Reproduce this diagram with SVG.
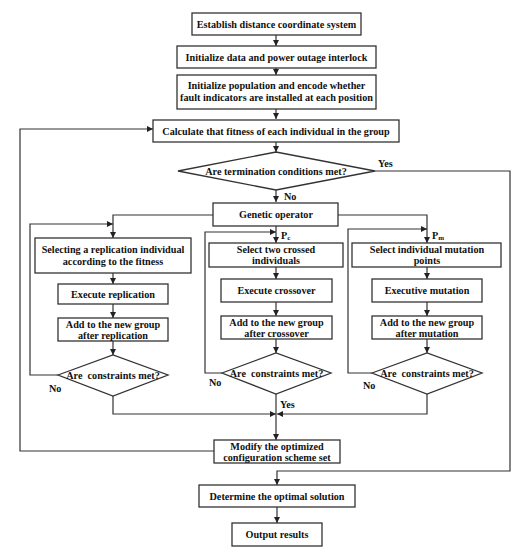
<svg xmlns="http://www.w3.org/2000/svg" width="521" height="550" viewBox="0 0 521 550">
<defs>
<marker id="arr" markerUnits="userSpaceOnUse" markerWidth="7" markerHeight="6" refX="6" refY="3" orient="auto">
<path d="M0,0 L6,3 L0,6 Z" fill="#222"/>
</marker>
<style>
.box{fill:#fff;stroke:#333;stroke-width:1.3}
.t{font-family:"Liberation Serif","Times New Roman",serif;font-weight:bold;font-size:10.2px;fill:#111;text-anchor:middle}
.l{font-family:"Liberation Serif","Times New Roman",serif;font-weight:bold;font-size:10.2px;fill:#111}
.c{fill:none;stroke:#333;stroke-width:1.2}
.a{fill:none;stroke:#333;stroke-width:1.2;marker-end:url(#arr)}
</style>
</defs>
<rect width="521" height="550" fill="#fff"/>
<g id="connectors">
<path class="a" d="M276,35 V46"/>
<path class="a" d="M276,68 V75"/>
<path class="a" d="M276,109 V119"/>
<path class="a" d="M276,142 V152"/>
<path class="a" d="M276,190 V202"/>
<path class="a" d="M276,226 V243"/>
<path class="a" d="M213,215 H113 V238"/>
<path class="a" d="M338,215 H427 V243"/>
<path class="a" d="M113,273 V284"/>
<path class="a" d="M113,304 V318"/>
<path class="a" d="M113,341 V355"/>
<path class="a" d="M276,267 V279"/>
<path class="a" d="M276,302 V316"/>
<path class="a" d="M276,339 V353"/>
<path class="a" d="M427,267 V279"/>
<path class="a" d="M427,302 V316"/>
<path class="a" d="M427,339 V353"/>
<path class="a" d="M58,375 H30 V224 H113"/>
<path class="a" d="M222,373 H205 V232 H276"/>
<path class="a" d="M372,373 H348 V229 H427"/>
<path class="a" d="M113,396 V414 H276"/>
<path class="a" d="M427,394 V414 H277"/>
<path class="a" d="M276,394 V440"/>
<path class="a" d="M214,451 H20 V129 H153"/>
<path class="a" d="M375,171 H510 V471 H277 V485"/>
<path class="a" d="M277,507 V523"/>
</g>
<g id="n1"><rect class="box" x="192" y="13" width="169" height="22"/><text class="t" x="276.5" y="27.5">Establish distance coordinate system</text></g>
<g id="n2"><rect class="box" x="177" y="46" width="199" height="22"/><text class="t" x="276.5" y="60.5">Initialize data and power outage interlock</text></g>
<g id="n3"><rect class="box" x="177" y="75" width="199" height="34"/><text class="t" x="276.5" y="89">Initialize population and encode whether</text><text class="t" x="276.5" y="101">fault indicators are installed at each position</text></g>
<g id="n4"><rect class="box" x="153" y="120" width="246" height="22"/><text class="t" x="276" y="134.5">Calculate that fitness of each individual in the group</text></g>
<g id="d1"><path class="box" d="M178,171 L276,152 L375,171 L276,190 Z"/><text class="t" x="276" y="175">Are termination conditions met?</text></g>
<text class="l" x="378" y="167">Yes</text>
<text class="l" x="284" y="200">No</text>
<g id="n5"><rect class="box" x="213" y="203" width="125" height="23"/><text class="t" x="276" y="218">Genetic operator</text></g>
<text class="l" x="281" y="239">P<tspan font-size="7px" dy="1">c</tspan></text>
<text class="l" x="432" y="239">P<tspan font-size="7px" dy="1">m</tspan></text>
<g id="n6"><rect class="box" x="35" y="238" width="156" height="35"/><text class="t" x="113" y="253">Selecting a replication individual</text><text class="t" x="113" y="265">according to the fitness</text></g>
<g id="n7"><rect class="box" x="209" y="243" width="134" height="24"/><text class="t" x="276" y="253">Select two crossed</text><text class="t" x="276" y="264">individuals</text></g>
<g id="n8"><rect class="box" x="352" y="243" width="149" height="24"/><text class="t" x="427" y="253">Select individual mutation</text><text class="t" x="427" y="264">points</text></g>
<g id="n9"><rect class="box" x="58" y="284" width="110" height="20"/><text class="t" x="113" y="297.5">Execute replication</text></g>
<g id="n10"><rect class="box" x="221" y="279" width="111" height="23"/><text class="t" x="276.5" y="294">Execute crossover</text></g>
<g id="n11"><rect class="box" x="372" y="279" width="110" height="23"/><text class="t" x="427" y="294">Executive mutation</text></g>
<g id="n12"><rect class="box" x="58" y="318" width="110" height="23"/><text class="t" x="113" y="327.5">Add to the new group</text><text class="t" x="113" y="338.5">after replication</text></g>
<g id="n13"><rect class="box" x="221" y="316" width="111" height="23"/><text class="t" x="276.5" y="325.5">Add to the new group</text><text class="t" x="276.5" y="336.5">after crossover</text></g>
<g id="n14"><rect class="box" x="372" y="316" width="110" height="23"/><text class="t" x="427" y="325.5">Add to the new group</text><text class="t" x="427" y="336.5">after mutation</text></g>
<g id="d2"><path class="box" d="M58,375 L113,355 L168,375 L113,396 Z"/><text class="t" x="113" y="379" xml:space="preserve">Are  constraints met?</text></g>
<g id="d3"><path class="box" d="M222,373 L276,353 L331,373 L276,394 Z"/><text class="t" x="276.5" y="377" xml:space="preserve">Are  constraints met?</text></g>
<g id="d4"><path class="box" d="M372,373 L427,353 L482,373 L427,394 Z"/><text class="t" x="427" y="377" xml:space="preserve">Are  constraints met?</text></g>
<text class="l" x="49" y="392">No</text>
<text class="l" x="209" y="386">No</text>
<text class="l" x="363" y="389">No</text>
<text class="l" x="280" y="408">Yes</text>
<g id="n15"><rect class="box" x="214" y="440" width="126" height="23"/><text class="t" x="277" y="449.5">Modify the optimized</text><text class="t" x="277" y="460.5">configuration scheme set</text></g>
<g id="n16"><rect class="box" x="199" y="485" width="156" height="22"/><text class="t" x="277" y="499.5">Determine the optimal solution</text></g>
<g id="n17"><rect class="box" x="232" y="523" width="90" height="23"/><text class="t" x="277" y="538">Output results</text></g>
</svg>
